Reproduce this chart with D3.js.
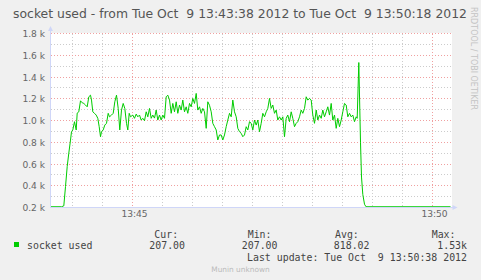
<!DOCTYPE html>
<html>
<head>
<meta charset="utf-8">
<script src="https://cdn.jsdelivr.net/npm/d3@7"></script>
<style>
html, body { margin: 0; padding: 0; background: #f0f0f0; }
svg { display: block; }
text { white-space: pre; }
</style>
</head>
<body>
<div id="chart"></div>
<script>
const title = "socket used - from Tue Oct  9 13:43:38 2012 to Tue Oct  9 13:50:18 2012";
const startTime = new Date(2012, 9, 9, 13, 43, 38);
const endTime = new Date(2012, 9, 9, 13, 50, 18);

// seconds after start, and the socket count at that moment
const seconds = [0, 11, 13.3, 15, 16.7, 18.3, 20, 21, 22.3, 24, 25.7, 26.7, 28.3, 30, 31.7, 33.3, 35, 36.7, 38.3, 40,
  41, 42.3, 44, 45.7, 47.3, 48.7, 50, 51, 52.7, 54.3, 56, 57.7, 59, 61, 62.7, 64.3, 66, 67.7, 69.3, 71,
  72.7, 74.3, 76, 77.3, 78.7, 80, 82.3, 84, 85.7, 87.3, 89, 90.7, 92.3, 94, 95.7, 97.3, 99, 100.7, 102.3, 104,
  105.7, 107.3, 109, 110.7, 112.3, 114, 115.7, 117.3, 119, 120.7, 122.3, 124, 125.7, 127.3, 129, 130.7, 132.3, 134, 135.7, 137.3,
  139, 140.7, 142.3, 144, 145.7, 147.3, 149, 150.7, 152.3, 154, 155.7, 157.3, 159, 160.7, 162.3, 164, 165.7, 167.3, 169, 170.7,
  172.3, 174, 175.7, 177.3, 179, 180.7, 182.3, 184, 185.7, 187.3, 189, 190.7, 192.3, 194, 195.7, 197.3, 199, 200.7, 202.3, 204,
  205.7, 207.3, 209, 210.7, 212.3, 214, 215.7, 217.3, 219, 220.7, 222.3, 224, 225.7, 227.3, 229, 230.7, 232.3, 234, 235.7, 237.3,
  239, 240.7, 242.3, 244, 245.7, 247.3, 249, 250.7, 252.3, 254, 255.7, 257.3, 259, 260.7, 262.3, 264, 265.7, 267.3, 269, 270.7,
  272.3, 274, 275.7, 277.3, 279, 280.7, 282.3, 284, 285.7, 287.3, 289, 290.7, 292.3, 294, 295.7, 297.3, 299, 300.7, 302.3, 304,
  305.7, 306.7, 308.3, 310, 311, 312.3, 314, 315.5, 400];
const sockets = [207, 207, 215, 393, 576, 700, 820, 897, 913, 989, 913, 1068, 1080, 1181, 1163, 1157, 1142, 1126, 1218, 1233,
  1188, 1080, 1066, 1050, 1020, 943, 851, 897, 913, 958, 974, 1066, 1034, 1050, 1066, 1172, 1233, 1111, 913, 1096,
  1157, 1111, 974, 913, 1066, 1034, 1050, 1020, 1059, 1034, 1050, 1004, 1020, 998, 1080, 1034, 1111, 1020, 1050, 1022,
  1096, 1004, 1050, 1004, 1050, 1020, 1218, 1233, 1188, 1066, 1157, 1080, 1172, 1066, 1142, 1096, 1188, 1080, 1126, 1066,
  1157, 1126, 1203, 1157, 1249, 1096, 1126, 1066, 1111, 1080, 928, 1172, 1140, 1080, 974, 943, 913, 821, 867, 867,
  821, 867, 943, 1004, 1066, 1034, 1188, 1080, 1034, 928, 897, 882, 851, 867, 943, 913, 989, 974, 913, 1004,
  958, 1004, 897, 974, 1066, 1034, 1080, 1111, 1203, 1111, 1142, 1066, 1096, 1004, 1034, 1004, 1034, 851, 1020, 1050,
  989, 1080, 1020, 943, 974, 989, 1034, 1096, 1066, 1111, 1218, 1188, 1203, 1188, 1050, 974, 1096, 1004, 1050, 1020,
  1096, 1034, 1080, 1126, 1050, 1157, 1004, 1050, 928, 1020, 943, 1004, 1080, 1157, 1142, 1034, 1066, 1034, 1050, 989,
  1034, 1020, 1533, 800, 480, 320, 230, 207, 207];

const seriesName = "socket used";
const legendHeads = ["Cur:", "Min:", "Avg:", "Max:"];
const legendValues = ["207.00", "207.00", "818.02", "1.53k"];
const lastUpdate = "Last update: Tue Oct  9 13:50:38 2012";
const footer = "Munin unknown";
const watermark = "RRDTOOL / TOBI OETIKER";

const width = 481, height = 280;
const plotLeft = 50.5, plotRight = 450.5, plotTop = 33.5, plotBottom = 207.5;
const fontSans = "'DejaVu Sans', sans-serif";
const fontMono = "'DejaVu Sans Mono', monospace";

const data = seconds.map((s, i) => ({ t: new Date(+startTime + s * 1000), v: sockets[i] }));

const x = d3.scaleTime([startTime, endTime], [plotLeft, plotRight]);
const y = d3.scaleLinear([200, 1800], [plotBottom, plotTop]);

const svg = d3.select("#chart").append("svg")
    .attr("width", width)
    .attr("height", height)
    .attr("viewBox", [0, 0, width, height]);

svg.append("rect").attr("width", width).attr("height", height).attr("fill", "#f0f0f0");

// canvas
svg.append("rect")
    .attr("x", plotLeft).attr("y", plotTop - 0.5)
    .attr("width", plotRight - plotLeft + 1.5).attr("height", plotBottom - plotTop + 0.5)
    .attr("fill", "#ffffff");

// grid
const majorY = y.ticks(8);
const minorY = y.ticks(16).filter(v => !majorY.includes(v));
const majorX = d3.timeMinute.every(5).range(startTime, endTime);
const minorX = d3.timeSecond.every(30).range(startTime, endTime)
    .filter(d => !majorX.some(m => +m === +d));

const grid = svg.append("g").attr("shape-rendering", "crispEdges").attr("stroke-width", 1)
    .attr("stroke-dasharray", "1,2");

grid.selectAll(".ymin").data(minorY).join("line")
    .attr("x1", plotLeft).attr("x2", plotRight + 2.5)
    .attr("y1", d => y(d)).attr("y2", d => y(d))
    .attr("stroke", "#cccccc");
grid.selectAll(".xmin").data(minorX).join("line")
    .attr("x1", d => x(d)).attr("x2", d => x(d))
    .attr("y1", plotTop).attr("y2", plotBottom)
    .attr("stroke", "#cccccc");
grid.selectAll(".ymaj").data(majorY.filter(v => v !== 200)).join("line")
    .attr("x1", plotLeft).attr("x2", plotRight + 2.5)
    .attr("y1", d => y(d)).attr("y2", d => y(d))
    .attr("stroke", "#f0a0a0");
grid.selectAll(".xmaj").data(majorX).join("line")
    .attr("x1", d => x(d)).attr("x2", d => x(d))
    .attr("y1", plotTop).attr("y2", plotBottom)
    .attr("stroke", "#f0a0a0");

// data line
svg.append("path")
    .datum(data)
    .attr("fill", "none")
    .attr("stroke", "#00cc00")
    .attr("stroke-width", 1)
    .attr("stroke-linejoin", "round")
    .attr("d", d3.line().x(d => x(d.t)).y(d => y(d.v)));

// axes
const axisColor = "#cfd6f8";
svg.append("line").attr("x1", plotLeft).attr("x2", plotLeft)
    .attr("y1", plotBottom + 0.5).attr("y2", 30)
    .attr("stroke", axisColor).attr("shape-rendering", "crispEdges");
svg.append("line").attr("x1", plotLeft).attr("x2", plotRight + 3)
    .attr("y1", plotBottom).attr("y2", plotBottom)
    .attr("stroke", axisColor).attr("shape-rendering", "crispEdges");
svg.append("path")
    .attr("d", `M${plotLeft - 2.5},31 L${plotLeft},26 L${plotLeft + 2.5},31 Z`)
    .attr("fill", axisColor);
svg.append("path")
    .attr("d", `M${plotRight + 2},${plotBottom - 2.5} L${plotRight + 7},${plotBottom} L${plotRight + 2},${plotBottom + 2.5} Z`)
    .attr("fill", axisColor);

// y labels
svg.append("g").selectAll("text").data(majorY).join("text")
    .attr("x", 45)
    .attr("y", d => y(d) + 3.5)
    .attr("text-anchor", "end")
    .attr("font-family", fontSans)
    .attr("font-size", 9.1)
    .attr("fill", "#666666")
    .text(d => d3.format(".1f")(d / 1000) + " k");

// x labels via axis
svg.append("g")
    .attr("transform", `translate(1.5,${plotBottom})`)
    .call(d3.axisBottom(x).tickValues(majorX).tickFormat(d3.timeFormat("%H:%M")).tickSize(0).tickPadding(3))
    .call(g => g.select(".domain").remove())
    .call(g => g.selectAll("text")
        .attr("font-family", fontSans)
        .attr("font-size", 9.1)
        .attr("fill", "#666666"));

// title
svg.append("text")
    .attr("x", 240).attr("y", 17.5)
    .attr("text-anchor", "middle")
    .attr("font-family", fontSans)
    .attr("font-size", 12.4)
    .attr("fill", "#555555")
    .text(title);

// watermark
svg.append("text")
    .attr("transform", "translate(470.5,7) rotate(90)")
    .attr("font-family", fontSans)
    .attr("font-size", 8)
    .attr("fill", "#c4c4c4")
    .text(watermark);

// legend
const legend = svg.append("g")
    .attr("font-family", fontMono)
    .attr("font-size", 9.9)
    .attr("fill", "#444444");

const headX = [154.3, 247.7, 335, 431.7];
const valueEnd = [185, 277.5, 369.5, 467];
legend.selectAll(".head").data(legendHeads).join("text")
    .attr("x", (d, i) => headX[i]).attr("y", 237.5)
    .text(d => d);
legend.selectAll(".val").data(legendValues).join("text")
    .attr("x", (d, i) => valueEnd[i]).attr("y", 249)
    .attr("text-anchor", "end")
    .text(d => d);
legend.append("rect")
    .attr("x", 14).attr("y", 242).attr("width", 5).attr("height", 5)
    .attr("fill", "#00cc00");
legend.append("text").attr("x", 27).attr("y", 249).text(seriesName);
legend.append("text").attr("x", 467).attr("y", 260.5).attr("text-anchor", "end").text(lastUpdate);

svg.append("text")
    .attr("x", 240.5).attr("y", 272)
    .attr("text-anchor", "middle")
    .attr("font-family", fontSans)
    .attr("font-size", 7.4)
    .attr("fill", "#bbbbbb")
    .text(footer);
</script>
</body>
</html>
